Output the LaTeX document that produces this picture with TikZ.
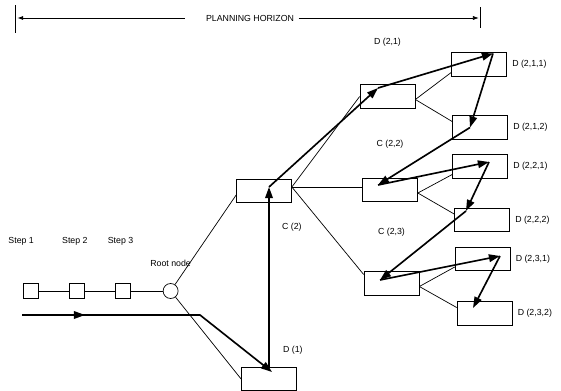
\documentclass[tikz,border=0pt]{standalone}
\usepackage{fontspec}
\setmainfont{Liberation Sans}
\usetikzlibrary{arrows.meta, positioning, calc}
\tikzset{
  box/.style={rectangle, draw, minimum width=1.65cm, minimum height=0.7cm,
    inner sep=0pt, line width=0.6pt},
  stepbox/.style={rectangle, draw, minimum size=0.45cm, inner sep=0pt, line width=0.6pt},
  rootnode/.style={circle, draw, minimum size=0.45cm, inner sep=0pt, line width=0.6pt},
  lbl/.style={font=\fontsize{7.5}{9}\selectfont, inner sep=1pt},
  line/.style={line width=0.6pt},
  flow/.style={-{Triangle[length=9.5pt,width=6.5pt]}, line width=1.4pt},
  harrow/.style={-{Latex[length=5pt,width=3.5pt]}, line width=0.6pt}
}
\begin{document}
\begin{tikzpicture}[x=0.03cm, y=-0.03cm]
  \useasboundingbox (0,0) rectangle (561,390);

  % Planning horizon
  \coordinate (hl) at (15,18);
  \coordinate (hr) at (480,18);
  \node[lbl] (ph) at (250,18) {PLANNING HORIZON};
  \draw[line] ([yshift=0.39cm]hl) -- ([yshift=-0.45cm]hl);
  \draw[line] ([yshift=0.33cm]hr) -- ([yshift=-0.3cm]hr);
  \draw[harrow] ([xshift=-0.6cm]ph.west) -- ([xshift=2pt]hl);
  \draw[harrow] ([xshift=0.1cm]ph.east) -- ([xshift=-1pt]hr);

  % Steps and root node
  \node[stepbox] (s1) at (30.5,291) {};
  \node[stepbox, right=0.92cm of s1] (s2) {};
  \node[stepbox, right=0.92cm of s2] (s3) {};
  \node[rootnode, right=0.95cm of s3] (root) {};
  \draw[line] (s1) -- (s2) -- (s3) -- (root);
  \node[lbl, above=1.1cm of s1, xshift=-0.28cm] (ls1) {Step 1};
  \node[lbl, above=1.1cm of s2, xshift=-0.06cm] (ls2) {Step 2};
  \node[lbl, above=1.1cm of s3, xshift=-0.08cm] (ls3) {Step 3};
  \node[lbl, above=0.45cm of root] (lroot) {Root node};

  % Decision boxes
  \node[box] (d1) at (269,379) {};
  \node[box] (d2) at (264,191) {};
  \node[box] (d21) at (387.5,96.5) {};
  \node[box] (d22) at (390,190) {};
  \node[box] (d23) at (391.5,283.5) {};
  \node[box] (d211) at (479,64.5) {};
  \node[box] (d212) at (480,127.5) {};
  \node[box] (d221) at (480,166.5) {};
  \node[box] (d222) at (482,220) {};
  \node[box] (d231) at (482.5,259) {};
  \node[box] (d232) at (484.5,313.5) {};

  % Tree
  \draw[line] (root) -- (d1.west);
  \draw[line] (root) -- ([shift={(0,4)}]d2.west);
  \coordinate (d2o) at ([shift={(0,-4)}]d2.east);
  \draw[line] (d2o) -- (d21.west);
  \draw[line] (d2o) -- (d2o -| d22.west);
  \draw[line] (d2o) -- ([shift={(0,3)}]d23.north west);
  \foreach \p/\a/\b in {d21/d211/d212, d22/d221/d222, d23/d231/d232} {
    \draw[line] ([shift={(0,3)}]\p.east) -- ([shift={(0,-4)}]\a.south west);
    \draw[line] ([shift={(0,3)}]\p.east) -- ([shift={(0,-6)}]\b.west);
  }

  % Labels
  \node[lbl, above=0.35cm of d1.north east, xshift=-0.12cm] (ld1) {D (1)};
  \node[lbl, below=0.55cm of d2.south east] (ld2) {C (2)};
  \node[lbl, above=1.1cm of d21] (ld21) {D (2,1)};
  \node[lbl, above=0.85cm of d22] (ld22) {C (2,2)};
  \node[lbl, above=1.0cm of d23] (ld23) {C (2,3)};
  \foreach \n/\t in {d211/{D (2,1,1)}, d212/{D (2,1,2)}, d221/{D (2,2,1)},
      d222/{D (2,2,2)}, d231/{D (2,3,1)}, d232/{D (2,3,2)}}
    \node[lbl, right=0.12cm of \n] (l\n) {\t};

  % Search path
  \coordinate (e0) at (22,315);
  \coordinate (e1) at (85,315);
  \coordinate (e2) at (200,315);
  \coordinate (t1) at ([shift={(3,-7)}]d1.center);
  \coordinate (t2) at ([shift={(5,-4)}]d2.center);
  \coordinate (t21) at ([shift={(-9.5,-8.5)}]d21.center);
  \coordinate (t211) at ([shift={(14,-11)}]d211.center);
  \coordinate (t212) at ([shift={(-10,0)}]d212.center);
  \coordinate (t22) at ([shift={(-12,-5)}]d22.center);
  \coordinate (t221) at ([shift={(9,-4.5)}]d221.center);
  \coordinate (t222) at ([shift={(-16,-9)}]d222.center);
  \coordinate (t23) at ([shift={(-11.5,-3.5)}]d23.center);
  \coordinate (t231) at ([shift={(17.5,-3)}]d231.center);
  \coordinate (t232) at ([shift={(-11.5,-5.5)}]d232.center);
  \draw[flow] (e0) -- (e2) -- (t1);
  \draw[flow] (e0) -- (e1);
  \draw[flow] (d1.north) -- (t2);
  \foreach \a/\b in {t2/t21, t21/t211, t211/t212, t212/t22, t22/t221,
      t221/t222, t222/t23, t23/t231, t231/t232}
    \draw[flow] (\a) -- (\b);
\end{tikzpicture}
\end{document}
